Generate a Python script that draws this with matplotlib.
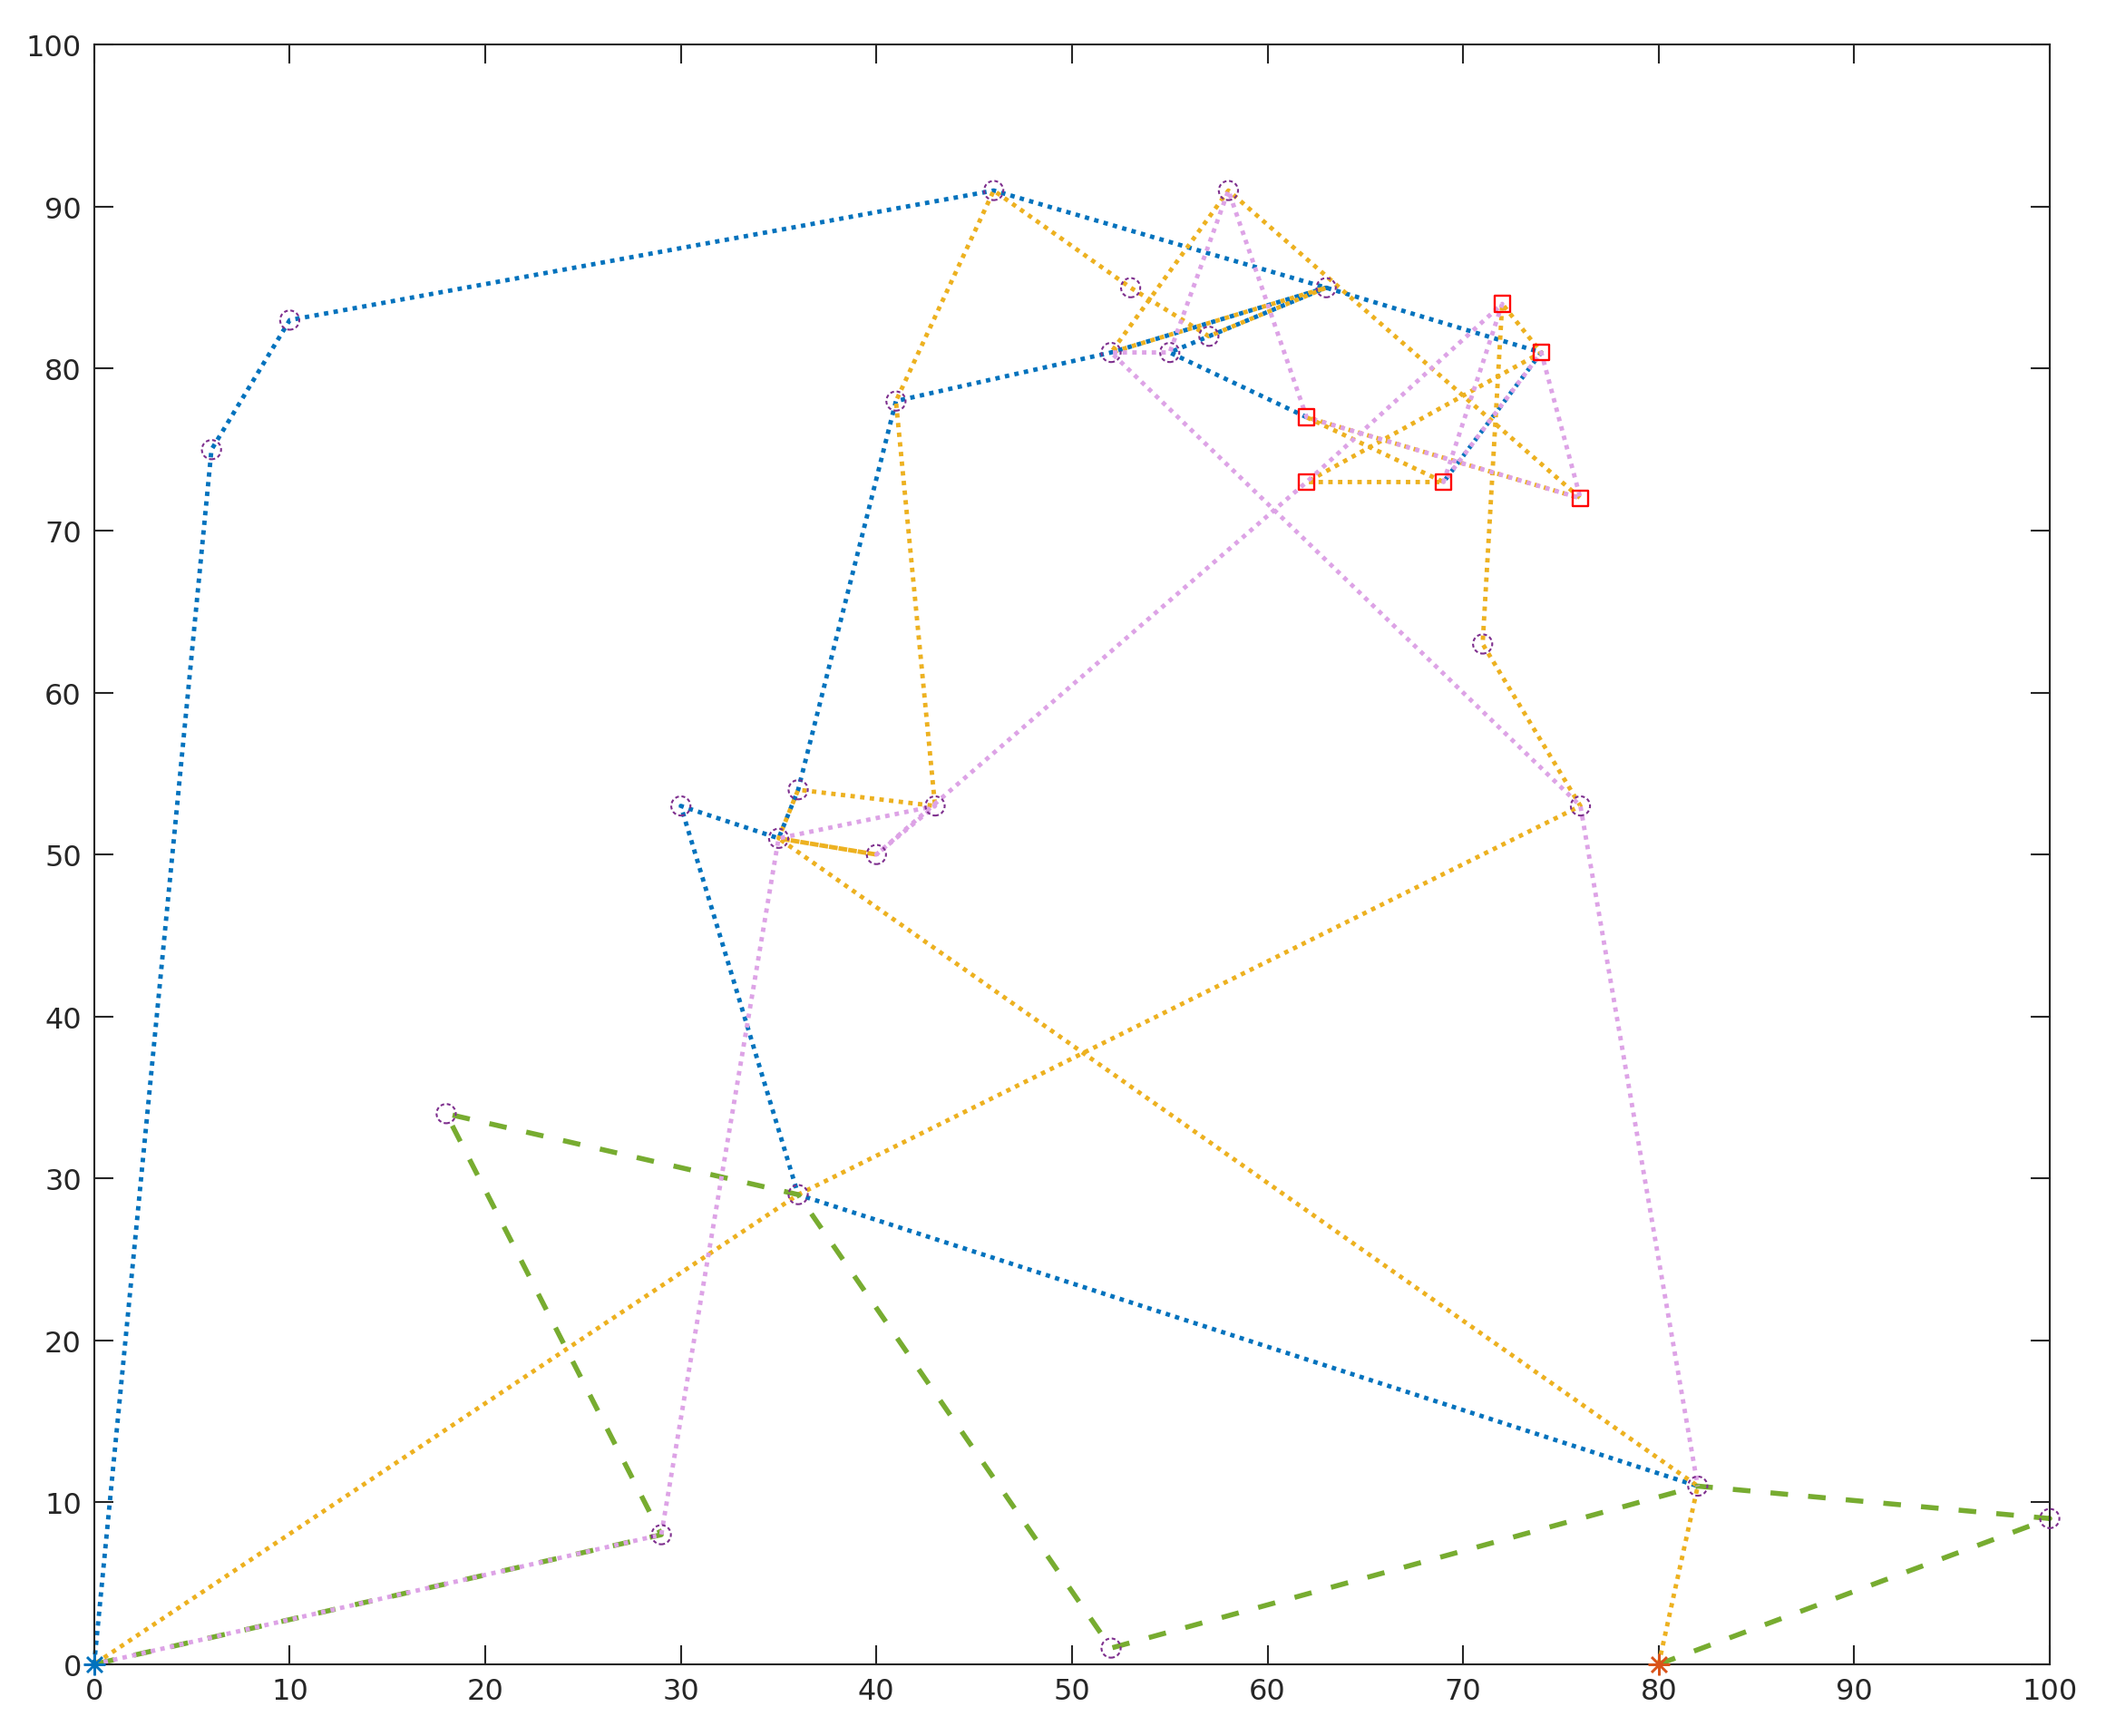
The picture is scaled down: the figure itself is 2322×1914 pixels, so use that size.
import matplotlib
matplotlib.use("Agg")
import matplotlib.pyplot as plt
import numpy as np

nan = np.nan

# customer nodes drawn as circles
circle_x = [6, 10, 46, 58, 53, 63, 52, 55, 57, 41, 36, 43, 30, 35, 40, 71, 76, 18, 36, 29, 52, 82, 100]
circle_y = [75, 83, 91, 91, 85, 85, 81, 81, 82, 78, 54, 53, 53, 51, 50, 63, 53, 34, 29, 8, 1, 11, 9]

# customer nodes drawn as red squares
square_x = [72, 74, 62, 62, 69, 76]
square_y = [84, 81, 77, 73, 73, 72]

# depots
depot_blue = [0, 0]
depot_orange = [80, 0]

# routes (nan breaks a route into separate pieces)
blue_x = [0, 6, 10, 46, 63, 74, 69, nan, 62, 55, 63, 52, 41, 36, 35, 30, 36, 82]
blue_y = [0, 75, 83, 91, 85, 81, 73, nan, 77, 81, 85, 81, 78, 54, 51, 53, 29, 11]

orange_x = [80, 82, 35, 40, 35, 36, 43, 41, 46, 53, 57, 63, 52, 58, 76, 62, 69, 62, 74, 72, 71, 76, 36, 0]
orange_y = [0, 11, 51, 50, 51, 54, 53, 78, 91, 85, 82, 85, 81, 91, 72, 77, 73, 73, 81, 84, 63, 53, 29, 0]

green_x = [80, 100, 82, 52, 36, 18, 29, 0]
green_y = [0, 9, 11, 1, 29, 34, 8, 0]

pink_x = [0, 29, 35, 43, 40, 62, 72, 69, 74, 76, 62, 58, 55, 52, 76, 82]
pink_y = [0, 8, 51, 53, 50, 73, 84, 73, 81, 72, 77, 91, 81, 81, 53, 11]

ticks = list(range(0, 101, 10))

C_BLUE = "#0072BD"
C_ORANGE = "#EDB120"
C_GREEN = "#77AC30"
C_PINK = "#DDA3E6"
C_PURPLE = "#7E2F8E"
C_RED = "#FF0000"
C_DEPOT2 = "#D95319"
C_AX = "#262626"

plt.rcParams['font.family'] = ['DejaVu Sans']

fig = plt.figure(figsize=(11.61, 9.575), dpi=200)
ax = fig.add_axes([0.0447, 0.0413, 0.9286, 0.9324])

dot = (0, (1, 1.2))
lw = 1.75

ax.plot(blue_x, blue_y, color=C_BLUE, lw=lw, linestyle=dot, clip_on=False, zorder=2)
ax.plot(orange_x, orange_y, color=C_ORANGE, lw=lw, linestyle=dot, clip_on=False, zorder=2)
ax.plot(green_x, green_y, color=C_GREEN, lw=2.0, linestyle=(0, (3.5, 4.0)), clip_on=False, zorder=2)
ax.plot(pink_x, pink_y, color=C_PINK, lw=lw, linestyle=dot, clip_on=False, zorder=2)

ax.scatter(circle_x, circle_y, s=58, facecolors='none', edgecolors=C_PURPLE,
           linewidths=0.75, linestyle=(0, (2, 1.4)), clip_on=False, zorder=3)
ax.scatter(square_x, square_y, s=38, marker='s', facecolors='none', edgecolors=C_RED,
           linewidths=0.85, clip_on=False, zorder=3)
ax.plot([depot_blue[0]], [depot_blue[1]], marker=(8, 2, 0), markersize=8.5, color=C_BLUE,
        markeredgewidth=0.9, linestyle='none', clip_on=False, zorder=4)
ax.plot([depot_orange[0]], [depot_orange[1]], marker=(8, 2, 0), markersize=8.5, color=C_DEPOT2,
        markeredgewidth=0.9, linestyle='none', clip_on=False, zorder=4)

ax.set_xlim(0, 100)
ax.set_ylim(0, 100)
ax.set_xticks(ticks)
ax.set_yticks(ticks)
ax.tick_params(direction='in', length=7.5, width=0.75, color=C_AX, labelcolor=C_AX,
               labelsize=11.5, top=True, right=True, pad=5)
for sp in ax.spines.values():
    sp.set_color(C_AX)
    sp.set_linewidth(0.75)

fig.savefig("out.png", dpi=200)
